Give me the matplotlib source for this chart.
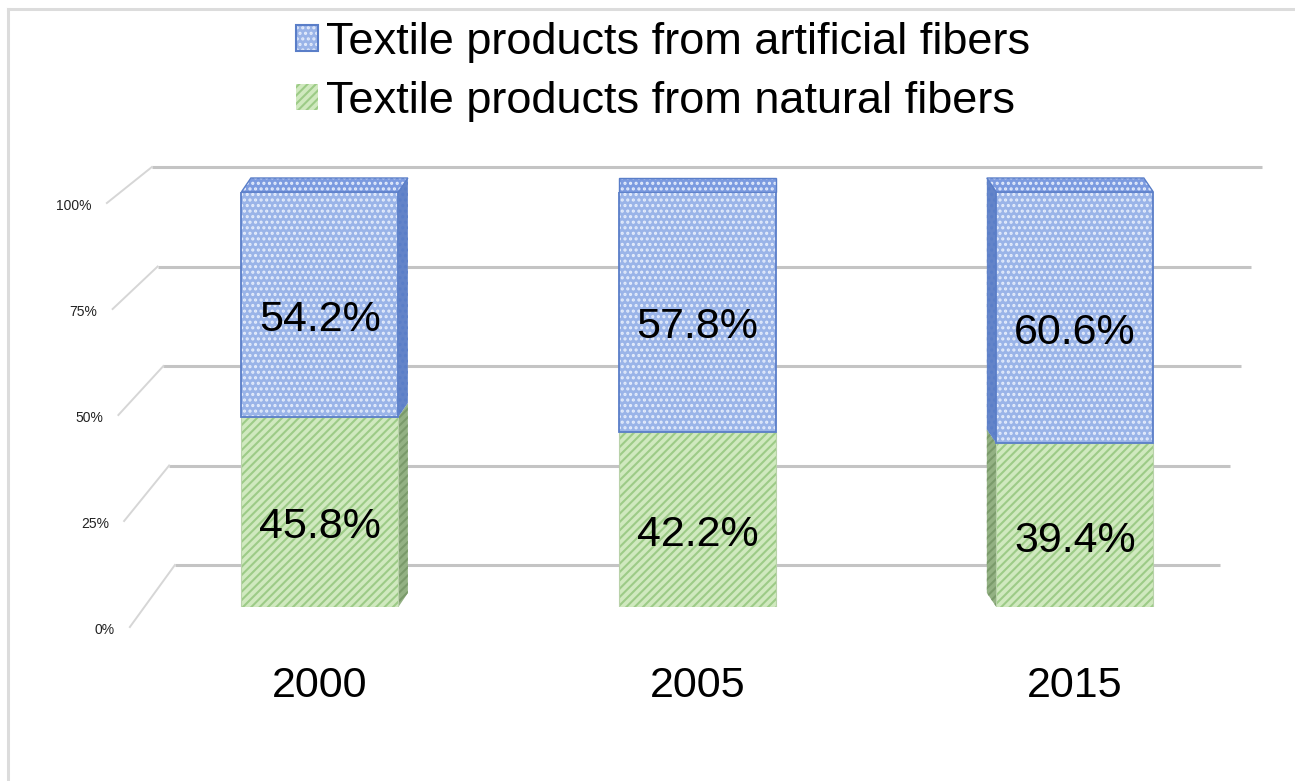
import matplotlib
matplotlib.use('Agg')
import matplotlib.pyplot as plt
import numpy as np
from matplotlib.patches import Patch, Polygon
from matplotlib.lines import Line2D
from matplotlib.legend_handler import HandlerTuple

# data
years = ['2000', '2005', '2015']
artificial = [54.2, 57.8, 60.6]
natural = [45.8, 42.2, 39.4]
series_names = ['Textile products from artificial fibers',
                'Textile products from natural fibers']
y_ticks = [0, 25, 50, 75, 100]
y_tick_labels = ['0%', '25%', '50%', '75%', '100%']

plt.rcParams['font.family'] = ['Liberation Sans', 'DejaVu Sans']
plt.rcParams['hatch.linewidth'] = 1.5

blue_face, blue_dot, blue_edge = '#9ab4e8', '#e4ecfb', '#5a7ec8'
blue_side, blue_top = '#6384c9', '#7c9be0'
green_face, green_hatch, green_edge = '#d0e9bf', '#9dcb87', '#b9d2aa'
green_side, green_side_hatch = '#93b183', '#7a9a6a'

W, H = 1295, 781
fig = plt.figure(figsize=(W / 100, H / 100), dpi=100)
# front face of the bars: 0% at y=607px, 100% at y=192px
ax = fig.add_axes([130 / W, (H - 607) / H, 1140 / W, 415 / H])
ax.set_xlim(-0.503, 2.517)
ax.set_ylim(0, 100)
ax.axis('off')

px_x = 1140 / 3.02   # pixels per category unit
px_y = 415 / 100     # pixels per percent


def dx(p):
    return p / px_x


def dy(p):
    return p / px_y


x = np.arange(len(years))
w = dx(157)

# back wall gridlines with the floor diagonal on the left
for v, lab in zip(y_ticks, y_tick_labels):
    yb = dy(42) + v * 0.959
    xl = dx(175 - 0.23 * v - 320)
    xr = dx(1220 + 0.42 * v - 320)
    ax.plot([xl, xr], [yb, yb], color='#c4c4c4', lw=2.2, zorder=1,
            clip_on=False, solid_capstyle='butt')
    xd, yd = xl - dx(45), yb - dy(62 - 0.26 * v)
    ax.plot([xl, xd], [yb, yd], color='#d6d6d6', lw=1.4, zorder=1,
            clip_on=False)
    ax.annotate(lab, (xd, yd), xytext=(-11, -2), textcoords='offset points',
                ha='right', va='center', fontsize=10, color='#222222',
                annotation_clip=False)

# 3d depth: side and top faces
depth_y = dy(14)
for i in range(len(years)):
    ddx = dx((1 - i) * 9.5)
    x0, x1 = i - w / 2, i + w / 2
    xe = x1 if ddx > 0 else x0
    segs = [(0, natural[i], green_side, green_side_hatch, '////'),
            (natural[i], natural[i] + artificial[i], blue_side, blue_edge, '...')]
    for y0, y1, fc, hc, hatch in segs:
        if ddx != 0:
            ax.add_patch(Polygon([(xe, y0), (xe + ddx, y0 + depth_y),
                                  (xe + ddx, y1 + depth_y), (xe, y1)],
                                 closed=True, facecolor=fc, edgecolor=hc,
                                 hatch=hatch, lw=0, zorder=2, clip_on=False))
    ytop = natural[i] + artificial[i]
    top = [(x0, ytop), (x1, ytop), (x1 + ddx, ytop + depth_y),
           (x0 + ddx, ytop + depth_y)]
    ax.add_patch(Polygon(top, closed=True, facecolor=blue_top,
                         edgecolor=blue_dot, hatch='...', lw=0, zorder=2,
                         clip_on=False))
    ax.add_patch(Polygon(top, closed=True, fill=False, edgecolor=blue_edge,
                         lw=1.0, zorder=2.1, clip_on=False))

# front faces
ax.bar(x, natural, w, color=green_face, edgecolor=green_hatch, hatch='////',
       linewidth=0, zorder=3)
ax.bar(x, natural, w, fill=False, edgecolor=green_edge, linewidth=0.8, zorder=3.1)
ax.bar(x, artificial, w, bottom=natural, color=blue_face, edgecolor=blue_dot,
       hatch='...', linewidth=0, zorder=3)
ax.bar(x, artificial, w, bottom=natural, fill=False, edgecolor=blue_edge,
       linewidth=1.3, zorder=3.1)

# value labels
for i in range(len(years)):
    ax.annotate(f'{natural[i]:.1f}%', (i, natural[i] / 2), xytext=(0, -11),
                textcoords='offset points', ha='center', va='center',
                fontsize=31, zorder=5)
    ax.annotate(f'{artificial[i]:.1f}%', (i, natural[i] + artificial[i] / 2),
                xytext=(0, -11), textcoords='offset points', ha='center',
                va='center', fontsize=31, zorder=5)
    ax.annotate(years[i], (i, 0), xytext=(0, -57), textcoords='offset points',
                ha='center', va='center', fontsize=31, annotation_clip=False)

# legend
handles = [(Patch(facecolor=blue_face, edgecolor=blue_dot, hatch='...', lw=0),
            Patch(fill=False, edgecolor=blue_edge, lw=1.5)),
           (Patch(facecolor=green_face, edgecolor=green_hatch, hatch='////', lw=0),)]
fig.legend(handles, series_names, loc='upper left',
           bbox_to_anchor=(296 / W, 1 - 22 / H), frameon=False, fontsize=32.5,
           handlelength=0.48, handleheight=0.5, handletextpad=0.18,
           labelspacing=0.4, borderpad=0, borderaxespad=0,
           handler_map={tuple: HandlerTuple(ndivide=1, pad=0)})

# light frame on top and left
fig.add_artist(Line2D([8 / W, 1], [1 - 9 / H, 1 - 9 / H], color='#dcdcdc', lw=2.2))
fig.add_artist(Line2D([8 / W, 8 / W], [0, 1 - 9 / H], color='#dcdcdc', lw=2.2))

fig.savefig('out.png', dpi=100)
